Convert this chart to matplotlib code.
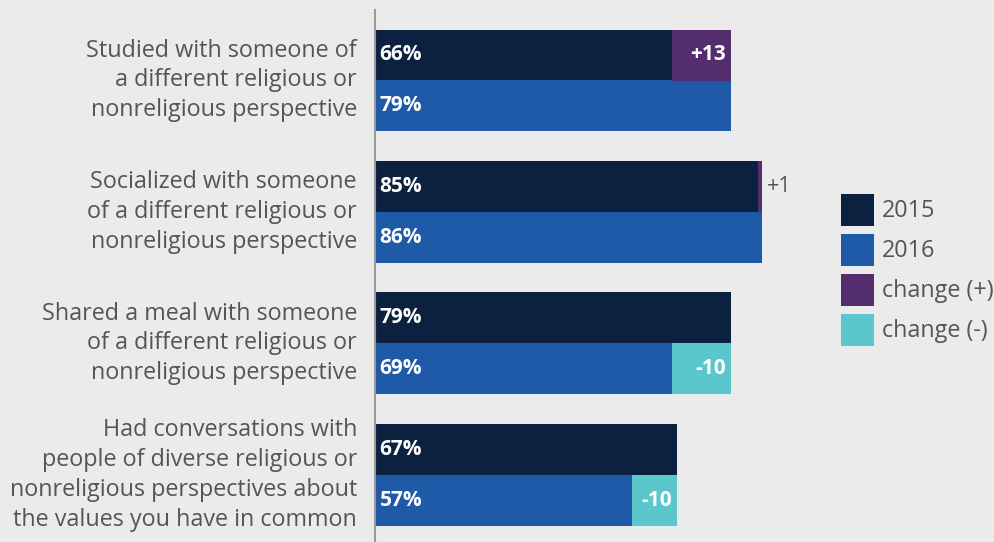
import matplotlib
matplotlib.use("Agg")
import matplotlib.pyplot as plt
from matplotlib.patches import Rectangle

categories = [
    "Studied with someone of\na different religious or\nnonreligious perspective",
    "Socialized with someone\nof a different religious or\nnonreligious perspective",
    "Shared a meal with someone\nof a different religious or\nnonreligious perspective",
    "Had conversations with\npeople of diverse religious or\nnonreligious perspectives about\nthe values you have in common",
]
v2015 = [66, 85, 79, 67]
v2016 = [79, 86, 69, 57]
# bar lengths of the 2016 bars as drawn in the picture (row 3 is drawn shorter than its label)
bar2016 = [79, 86, 66, 57]
change = [13, 1, -10, -10]
legend_labels = ["2015", "2016", "change (+)", "change (-)"]

C2015 = "#0c2040"
C2016 = "#1f5aa8"
CPOS = "#532d6d"
CNEG = "#5bc6cc"
BG = "#ebebeb"
TXT = "#555555"
FONT = "Open Sans"

W, H = 995, 542
fig = plt.figure(figsize=(W / 100, H / 100), dpi=100, facecolor=BG)
ax = fig.add_axes([375 / W, 0, 1 - 375 / W, (H - 10) / H])
ax.set_facecolor(BG)

px_per_unit = 4.5
ax.set_xlim(0, (W - 375) / px_per_unit)
row_sp = 131.5
bh = 51 / row_sp
top = -(80.5 - 10) / row_sp
bot = (542 - 80.5) / row_sp
ax.set_ylim(bot, top)

for i, cat in enumerate(categories):
    y15 = i - bh / 2
    y16 = i + bh / 2
    ax.barh(y15, v2015[i], height=bh, color=C2015, linewidth=0)
    ax.barh(y16, bar2016[i], height=bh, color=C2016, linewidth=0)
    c = change[i]
    dx = 5 / px_per_unit
    if c > 0:
        ax.barh(y15, bar2016[i] - v2015[i], left=v2015[i], height=bh, color=CPOS, linewidth=0)
        yy, end = y15, bar2016[i]
    else:
        ax.barh(y16, v2015[i] - bar2016[i], left=bar2016[i], height=bh, color=CNEG, linewidth=0)
        yy, end = y16, v2015[i]
    lab = f"+{c}" if c > 0 else f"{c}"
    if abs(c) >= 5:
        ax.text(end - dx, yy, lab, ha="right", va="center", color="white",
                fontsize=15, fontweight="bold", family=FONT)
    else:
        ax.text(end + dx, yy, lab, ha="left", va="center", color=TXT,
                fontsize=15.5, family=FONT)
    ax.text(4.5 / px_per_unit, y15, f"{v2015[i]}%", ha="left", va="center", color="white",
            fontsize=15, fontweight="bold", family=FONT)
    ax.text(4.5 / px_per_unit, y16, f"{v2016[i]}%", ha="left", va="center", color="white",
            fontsize=15, fontweight="bold", family=FONT)
    ax.text(-18 / px_per_unit, i, cat, ha="right", va="center", color=TXT,
            fontsize=16.8, family=FONT, linespacing=1.32, multialignment="right")

for s in ["top", "right", "bottom"]:
    ax.spines[s].set_visible(False)
ax.spines["left"].set_color("#999999")
ax.spines["left"].set_linewidth(1.5)
ax.set_xticks([])
ax.set_yticks([])

# legend drawn manually in figure pixel coordinates
for k, (lab, col) in enumerate(zip(legend_labels, [C2015, C2016, CPOS, CNEG])):
    y0 = 194 + 40 * k
    fig.patches.append(Rectangle((841 / W, 1 - (y0 + 32) / H), 33 / W, 32 / H,
                                 transform=fig.transFigure, facecolor=col,
                                 edgecolor="none"))
    fig.text(882 / W, 1 - (y0 + 17) / H, lab, ha="left", va="center",
             color=TXT, fontsize=16.8, family=FONT)

fig.savefig("out.png", dpi=100, facecolor=BG)
